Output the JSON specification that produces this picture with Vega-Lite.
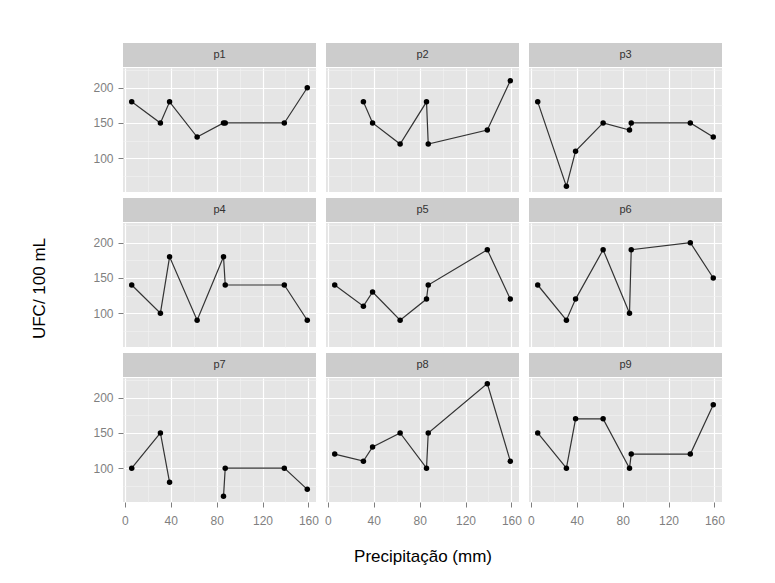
{
  "$schema": "https://vega.github.io/schema/vega-lite/v6.json",
  "background": "white",
  "padding": {"left": 30, "top": 43, "right": 5, "bottom": 5},
  "datasets": {"d": [
    {"p": "p1", "precip": 6, "ufc": 180}, {"p": "p1", "precip": 31, "ufc": 150}, {"p": "p1", "precip": 39, "ufc": 180}, {"p": "p1", "precip": 63, "ufc": 130}, {"p": "p1", "precip": 86, "ufc": 150}, {"p": "p1", "precip": 87.5, "ufc": 150}, {"p": "p1", "precip": 139, "ufc": 150}, {"p": "p1", "precip": 159, "ufc": 200},
    {"p": "p2", "precip": 6, "ufc": null}, {"p": "p2", "precip": 31, "ufc": 180}, {"p": "p2", "precip": 39, "ufc": 150}, {"p": "p2", "precip": 63, "ufc": 120}, {"p": "p2", "precip": 86, "ufc": 180}, {"p": "p2", "precip": 87.5, "ufc": 120}, {"p": "p2", "precip": 139, "ufc": 140}, {"p": "p2", "precip": 159, "ufc": 210},
    {"p": "p3", "precip": 6, "ufc": 180}, {"p": "p3", "precip": 31, "ufc": 60}, {"p": "p3", "precip": 39, "ufc": 110}, {"p": "p3", "precip": 63, "ufc": 150}, {"p": "p3", "precip": 86, "ufc": 140}, {"p": "p3", "precip": 87.5, "ufc": 150}, {"p": "p3", "precip": 139, "ufc": 150}, {"p": "p3", "precip": 159, "ufc": 130},
    {"p": "p4", "precip": 6, "ufc": 140}, {"p": "p4", "precip": 31, "ufc": 100}, {"p": "p4", "precip": 39, "ufc": 180}, {"p": "p4", "precip": 63, "ufc": 90}, {"p": "p4", "precip": 86, "ufc": 180}, {"p": "p4", "precip": 87.5, "ufc": 140}, {"p": "p4", "precip": 139, "ufc": 140}, {"p": "p4", "precip": 159, "ufc": 90},
    {"p": "p5", "precip": 6, "ufc": 140}, {"p": "p5", "precip": 31, "ufc": 110}, {"p": "p5", "precip": 39, "ufc": 130}, {"p": "p5", "precip": 63, "ufc": 90}, {"p": "p5", "precip": 86, "ufc": 120}, {"p": "p5", "precip": 87.5, "ufc": 140}, {"p": "p5", "precip": 139, "ufc": 190}, {"p": "p5", "precip": 159, "ufc": 120},
    {"p": "p6", "precip": 6, "ufc": 140}, {"p": "p6", "precip": 31, "ufc": 90}, {"p": "p6", "precip": 39, "ufc": 120}, {"p": "p6", "precip": 63, "ufc": 190}, {"p": "p6", "precip": 86, "ufc": 100}, {"p": "p6", "precip": 87.5, "ufc": 190}, {"p": "p6", "precip": 139, "ufc": 200}, {"p": "p6", "precip": 159, "ufc": 150},
    {"p": "p7", "precip": 6, "ufc": 100}, {"p": "p7", "precip": 31, "ufc": 150}, {"p": "p7", "precip": 39, "ufc": 80}, {"p": "p7", "precip": 63, "ufc": null}, {"p": "p7", "precip": 86, "ufc": 60}, {"p": "p7", "precip": 87.5, "ufc": 100}, {"p": "p7", "precip": 139, "ufc": 100}, {"p": "p7", "precip": 159, "ufc": 70},
    {"p": "p8", "precip": 6, "ufc": 120}, {"p": "p8", "precip": 31, "ufc": 110}, {"p": "p8", "precip": 39, "ufc": 130}, {"p": "p8", "precip": 63, "ufc": 150}, {"p": "p8", "precip": 86, "ufc": 100}, {"p": "p8", "precip": 87.5, "ufc": 150}, {"p": "p8", "precip": 139, "ufc": 220}, {"p": "p8", "precip": 159, "ufc": 110},
    {"p": "p9", "precip": 6, "ufc": 150}, {"p": "p9", "precip": 31, "ufc": 100}, {"p": "p9", "precip": 39, "ufc": 170}, {"p": "p9", "precip": 63, "ufc": 170}, {"p": "p9", "precip": 86, "ufc": 100}, {"p": "p9", "precip": 87.5, "ufc": 120}, {"p": "p9", "precip": 139, "ufc": 120}, {"p": "p9", "precip": 159, "ufc": 190}
  ]},
  "data": {"name": "d"},
  "columns": 3,
  "spacing": {"row": 6, "column": 5},
  "concat": [
    {"transform": [{"filter": "datum.p === 'p1'"}], "spacing": 1, "bounds": "flush", "vconcat": [
      {"width": 193, "height": 24, "view": {"fill": "#CCCCCC", "stroke": null}, "transform": [{"filter": "datum.precip === 6"}],
        "mark": {"type": "text", "fontSize": 11, "color": "#333333", "font": "Liberation Sans", "baseline": "middle", "align": "center"},
        "encoding": {"text": {"field": "p"}}},
      {"width": 193, "height": 124,
        "encoding": {
          "x": {"field": "precip", "type": "quantitative", "title": null, "scale": {"domain": [-1.6, 166.6], "nice": false, "zero": false},
            "axis": {"values": [0, 20, 40, 60, 80, 100, 120, 140, 160], "labels": false, "ticks": false,
              "gridColor": {"condition": {"test": "datum.value % 40 !== 0", "value": "#F2F2F2"}, "value": "#FFFFFF"},
              "gridWidth": {"condition": {"test": "datum.value % 40 !== 0", "value": 0.6}, "value": 1.2}}},
          "y": {"field": "ufc", "type": "quantitative", "title": null, "scale": {"domain": [52, 228], "nice": false, "zero": false},
            "axis": {"values": [75, 100, 125, 150, 175, 200, 225], "labelExpr": "datum.value % 50 === 0 ? datum.label : ''", "labelOverlap": false,
              "gridColor": {"condition": {"test": "datum.value % 50 !== 0", "value": "#F2F2F2"}, "value": "#FFFFFF"},
              "gridWidth": {"condition": {"test": "datum.value % 50 !== 0", "value": 0.6}, "value": 1.2},
              "tickOpacity": {"condition": {"test": "datum.value % 50 !== 0", "value": 0}, "value": 1}}}
        },
        "layer": [
          {"mark": {"type": "line", "color": "#333333", "strokeWidth": 1.2, "invalid": "break-paths-filter-domains"}},
          {"mark": {"type": "point", "filled": true, "color": "black", "size": 30, "opacity": 1}}
        ]}
    ]},
    {"transform": [{"filter": "datum.p === 'p2'"}], "spacing": 1, "bounds": "flush", "vconcat": [
      {"width": 193, "height": 24, "view": {"fill": "#CCCCCC", "stroke": null}, "transform": [{"filter": "datum.precip === 6"}],
        "mark": {"type": "text", "fontSize": 11, "color": "#333333", "font": "Liberation Sans", "baseline": "middle", "align": "center"},
        "encoding": {"text": {"field": "p"}}},
      {"width": 193, "height": 124,
        "encoding": {
          "x": {"field": "precip", "type": "quantitative", "title": null, "scale": {"domain": [-1.6, 166.6], "nice": false, "zero": false},
            "axis": {"values": [0, 20, 40, 60, 80, 100, 120, 140, 160], "labels": false, "ticks": false,
              "gridColor": {"condition": {"test": "datum.value % 40 !== 0", "value": "#F2F2F2"}, "value": "#FFFFFF"},
              "gridWidth": {"condition": {"test": "datum.value % 40 !== 0", "value": 0.6}, "value": 1.2}}},
          "y": {"field": "ufc", "type": "quantitative", "title": null, "scale": {"domain": [52, 228], "nice": false, "zero": false},
            "axis": {"values": [75, 100, 125, 150, 175, 200, 225], "labels": false, "ticks": false,
              "gridColor": {"condition": {"test": "datum.value % 50 !== 0", "value": "#F2F2F2"}, "value": "#FFFFFF"},
              "gridWidth": {"condition": {"test": "datum.value % 50 !== 0", "value": 0.6}, "value": 1.2}}}
        },
        "layer": [
          {"mark": {"type": "line", "color": "#333333", "strokeWidth": 1.2, "invalid": "break-paths-filter-domains"}},
          {"mark": {"type": "point", "filled": true, "color": "black", "size": 30, "opacity": 1}}
        ]}
    ]},
    {"transform": [{"filter": "datum.p === 'p3'"}], "spacing": 1, "bounds": "flush", "vconcat": [
      {"width": 193, "height": 24, "view": {"fill": "#CCCCCC", "stroke": null}, "transform": [{"filter": "datum.precip === 6"}],
        "mark": {"type": "text", "fontSize": 11, "color": "#333333", "font": "Liberation Sans", "baseline": "middle", "align": "center"},
        "encoding": {"text": {"field": "p"}}},
      {"width": 193, "height": 124,
        "encoding": {
          "x": {"field": "precip", "type": "quantitative", "title": null, "scale": {"domain": [-1.6, 166.6], "nice": false, "zero": false},
            "axis": {"values": [0, 20, 40, 60, 80, 100, 120, 140, 160], "labels": false, "ticks": false,
              "gridColor": {"condition": {"test": "datum.value % 40 !== 0", "value": "#F2F2F2"}, "value": "#FFFFFF"},
              "gridWidth": {"condition": {"test": "datum.value % 40 !== 0", "value": 0.6}, "value": 1.2}}},
          "y": {"field": "ufc", "type": "quantitative", "title": null, "scale": {"domain": [52, 228], "nice": false, "zero": false},
            "axis": {"values": [75, 100, 125, 150, 175, 200, 225], "labels": false, "ticks": false,
              "gridColor": {"condition": {"test": "datum.value % 50 !== 0", "value": "#F2F2F2"}, "value": "#FFFFFF"},
              "gridWidth": {"condition": {"test": "datum.value % 50 !== 0", "value": 0.6}, "value": 1.2}}}
        },
        "layer": [
          {"mark": {"type": "line", "color": "#333333", "strokeWidth": 1.2, "invalid": "break-paths-filter-domains"}},
          {"mark": {"type": "point", "filled": true, "color": "black", "size": 30, "opacity": 1}}
        ]}
    ]},
    {"transform": [{"filter": "datum.p === 'p4'"}], "spacing": 1, "bounds": "flush", "vconcat": [
      {"width": 193, "height": 24, "view": {"fill": "#CCCCCC", "stroke": null}, "transform": [{"filter": "datum.precip === 6"}],
        "mark": {"type": "text", "fontSize": 11, "color": "#333333", "font": "Liberation Sans", "baseline": "middle", "align": "center"},
        "encoding": {"text": {"field": "p"}}},
      {"width": 193, "height": 124,
        "encoding": {
          "x": {"field": "precip", "type": "quantitative", "title": null, "scale": {"domain": [-1.6, 166.6], "nice": false, "zero": false},
            "axis": {"values": [0, 20, 40, 60, 80, 100, 120, 140, 160], "labels": false, "ticks": false,
              "gridColor": {"condition": {"test": "datum.value % 40 !== 0", "value": "#F2F2F2"}, "value": "#FFFFFF"},
              "gridWidth": {"condition": {"test": "datum.value % 40 !== 0", "value": 0.6}, "value": 1.2}}},
          "y": {"field": "ufc", "type": "quantitative", "title": "UFC/ 100 mL", "scale": {"domain": [52, 228], "nice": false, "zero": false},
            "axis": {"values": [75, 100, 125, 150, 175, 200, 225], "labelExpr": "datum.value % 50 === 0 ? datum.label : ''", "labelOverlap": false, "titleY": 65,
              "gridColor": {"condition": {"test": "datum.value % 50 !== 0", "value": "#F2F2F2"}, "value": "#FFFFFF"},
              "gridWidth": {"condition": {"test": "datum.value % 50 !== 0", "value": 0.6}, "value": 1.2},
              "tickOpacity": {"condition": {"test": "datum.value % 50 !== 0", "value": 0}, "value": 1}}}
        },
        "layer": [
          {"mark": {"type": "line", "color": "#333333", "strokeWidth": 1.2, "invalid": "break-paths-filter-domains"}},
          {"mark": {"type": "point", "filled": true, "color": "black", "size": 30, "opacity": 1}}
        ]}
    ]},
    {"transform": [{"filter": "datum.p === 'p5'"}], "spacing": 1, "bounds": "flush", "vconcat": [
      {"width": 193, "height": 24, "view": {"fill": "#CCCCCC", "stroke": null}, "transform": [{"filter": "datum.precip === 6"}],
        "mark": {"type": "text", "fontSize": 11, "color": "#333333", "font": "Liberation Sans", "baseline": "middle", "align": "center"},
        "encoding": {"text": {"field": "p"}}},
      {"width": 193, "height": 124,
        "encoding": {
          "x": {"field": "precip", "type": "quantitative", "title": null, "scale": {"domain": [-1.6, 166.6], "nice": false, "zero": false},
            "axis": {"values": [0, 20, 40, 60, 80, 100, 120, 140, 160], "labels": false, "ticks": false,
              "gridColor": {"condition": {"test": "datum.value % 40 !== 0", "value": "#F2F2F2"}, "value": "#FFFFFF"},
              "gridWidth": {"condition": {"test": "datum.value % 40 !== 0", "value": 0.6}, "value": 1.2}}},
          "y": {"field": "ufc", "type": "quantitative", "title": null, "scale": {"domain": [52, 228], "nice": false, "zero": false},
            "axis": {"values": [75, 100, 125, 150, 175, 200, 225], "labels": false, "ticks": false,
              "gridColor": {"condition": {"test": "datum.value % 50 !== 0", "value": "#F2F2F2"}, "value": "#FFFFFF"},
              "gridWidth": {"condition": {"test": "datum.value % 50 !== 0", "value": 0.6}, "value": 1.2}}}
        },
        "layer": [
          {"mark": {"type": "line", "color": "#333333", "strokeWidth": 1.2, "invalid": "break-paths-filter-domains"}},
          {"mark": {"type": "point", "filled": true, "color": "black", "size": 30, "opacity": 1}}
        ]}
    ]},
    {"transform": [{"filter": "datum.p === 'p6'"}], "spacing": 1, "bounds": "flush", "vconcat": [
      {"width": 193, "height": 24, "view": {"fill": "#CCCCCC", "stroke": null}, "transform": [{"filter": "datum.precip === 6"}],
        "mark": {"type": "text", "fontSize": 11, "color": "#333333", "font": "Liberation Sans", "baseline": "middle", "align": "center"},
        "encoding": {"text": {"field": "p"}}},
      {"width": 193, "height": 124,
        "encoding": {
          "x": {"field": "precip", "type": "quantitative", "title": null, "scale": {"domain": [-1.6, 166.6], "nice": false, "zero": false},
            "axis": {"values": [0, 20, 40, 60, 80, 100, 120, 140, 160], "labels": false, "ticks": false,
              "gridColor": {"condition": {"test": "datum.value % 40 !== 0", "value": "#F2F2F2"}, "value": "#FFFFFF"},
              "gridWidth": {"condition": {"test": "datum.value % 40 !== 0", "value": 0.6}, "value": 1.2}}},
          "y": {"field": "ufc", "type": "quantitative", "title": null, "scale": {"domain": [52, 228], "nice": false, "zero": false},
            "axis": {"values": [75, 100, 125, 150, 175, 200, 225], "labels": false, "ticks": false,
              "gridColor": {"condition": {"test": "datum.value % 50 !== 0", "value": "#F2F2F2"}, "value": "#FFFFFF"},
              "gridWidth": {"condition": {"test": "datum.value % 50 !== 0", "value": 0.6}, "value": 1.2}}}
        },
        "layer": [
          {"mark": {"type": "line", "color": "#333333", "strokeWidth": 1.2, "invalid": "break-paths-filter-domains"}},
          {"mark": {"type": "point", "filled": true, "color": "black", "size": 30, "opacity": 1}}
        ]}
    ]},
    {"transform": [{"filter": "datum.p === 'p7'"}], "spacing": 1, "bounds": "flush", "vconcat": [
      {"width": 193, "height": 24, "view": {"fill": "#CCCCCC", "stroke": null}, "transform": [{"filter": "datum.precip === 6"}],
        "mark": {"type": "text", "fontSize": 11, "color": "#333333", "font": "Liberation Sans", "baseline": "middle", "align": "center"},
        "encoding": {"text": {"field": "p"}}},
      {"width": 193, "height": 124,
        "encoding": {
          "x": {"field": "precip", "type": "quantitative", "title": null, "scale": {"domain": [-1.6, 166.6], "nice": false, "zero": false},
            "axis": {"values": [0, 20, 40, 60, 80, 100, 120, 140, 160], "labelExpr": "datum.value % 40 === 0 ? datum.label : ''", "labelFlush": true, "labelOverlap": false,
              "gridColor": {"condition": {"test": "datum.value % 40 !== 0", "value": "#F2F2F2"}, "value": "#FFFFFF"},
              "gridWidth": {"condition": {"test": "datum.value % 40 !== 0", "value": 0.6}, "value": 1.2},
              "tickOpacity": {"condition": {"test": "datum.value % 40 !== 0", "value": 0}, "value": 1}}},
          "y": {"field": "ufc", "type": "quantitative", "title": null, "scale": {"domain": [52, 228], "nice": false, "zero": false},
            "axis": {"values": [75, 100, 125, 150, 175, 200, 225], "labelExpr": "datum.value % 50 === 0 ? datum.label : ''", "labelOverlap": false,
              "gridColor": {"condition": {"test": "datum.value % 50 !== 0", "value": "#F2F2F2"}, "value": "#FFFFFF"},
              "gridWidth": {"condition": {"test": "datum.value % 50 !== 0", "value": 0.6}, "value": 1.2},
              "tickOpacity": {"condition": {"test": "datum.value % 50 !== 0", "value": 0}, "value": 1}}}
        },
        "layer": [
          {"mark": {"type": "line", "color": "#333333", "strokeWidth": 1.2, "invalid": "break-paths-filter-domains"}},
          {"mark": {"type": "point", "filled": true, "color": "black", "size": 30, "opacity": 1}}
        ]}
    ]},
    {"transform": [{"filter": "datum.p === 'p8'"}], "spacing": 1, "bounds": "flush", "vconcat": [
      {"width": 193, "height": 24, "view": {"fill": "#CCCCCC", "stroke": null}, "transform": [{"filter": "datum.precip === 6"}],
        "mark": {"type": "text", "fontSize": 11, "color": "#333333", "font": "Liberation Sans", "baseline": "middle", "align": "center"},
        "encoding": {"text": {"field": "p"}}},
      {"width": 193, "height": 124,
        "encoding": {
          "x": {"field": "precip", "type": "quantitative", "title": "Precipitação (mm)", "scale": {"domain": [-1.6, 166.6], "nice": false, "zero": false},
            "axis": {"values": [0, 20, 40, 60, 80, 100, 120, 140, 160], "labelExpr": "datum.value % 40 === 0 ? datum.label : ''", "labelFlush": true, "labelOverlap": false,
              "gridColor": {"condition": {"test": "datum.value % 40 !== 0", "value": "#F2F2F2"}, "value": "#FFFFFF"},
              "gridWidth": {"condition": {"test": "datum.value % 40 !== 0", "value": 0.6}, "value": 1.2},
              "tickOpacity": {"condition": {"test": "datum.value % 40 !== 0", "value": 0}, "value": 1}}},
          "y": {"field": "ufc", "type": "quantitative", "title": null, "scale": {"domain": [52, 228], "nice": false, "zero": false},
            "axis": {"values": [75, 100, 125, 150, 175, 200, 225], "labels": false, "ticks": false,
              "gridColor": {"condition": {"test": "datum.value % 50 !== 0", "value": "#F2F2F2"}, "value": "#FFFFFF"},
              "gridWidth": {"condition": {"test": "datum.value % 50 !== 0", "value": 0.6}, "value": 1.2}}}
        },
        "layer": [
          {"mark": {"type": "line", "color": "#333333", "strokeWidth": 1.2, "invalid": "break-paths-filter-domains"}},
          {"mark": {"type": "point", "filled": true, "color": "black", "size": 30, "opacity": 1}}
        ]}
    ]},
    {"transform": [{"filter": "datum.p === 'p9'"}], "spacing": 1, "bounds": "flush", "vconcat": [
      {"width": 193, "height": 24, "view": {"fill": "#CCCCCC", "stroke": null}, "transform": [{"filter": "datum.precip === 6"}],
        "mark": {"type": "text", "fontSize": 11, "color": "#333333", "font": "Liberation Sans", "baseline": "middle", "align": "center"},
        "encoding": {"text": {"field": "p"}}},
      {"width": 193, "height": 124,
        "encoding": {
          "x": {"field": "precip", "type": "quantitative", "title": null, "scale": {"domain": [-1.6, 166.6], "nice": false, "zero": false},
            "axis": {"values": [0, 20, 40, 60, 80, 100, 120, 140, 160], "labelExpr": "datum.value % 40 === 0 ? datum.label : ''", "labelFlush": true, "labelOverlap": false,
              "gridColor": {"condition": {"test": "datum.value % 40 !== 0", "value": "#F2F2F2"}, "value": "#FFFFFF"},
              "gridWidth": {"condition": {"test": "datum.value % 40 !== 0", "value": 0.6}, "value": 1.2},
              "tickOpacity": {"condition": {"test": "datum.value % 40 !== 0", "value": 0}, "value": 1}}},
          "y": {"field": "ufc", "type": "quantitative", "title": null, "scale": {"domain": [52, 228], "nice": false, "zero": false},
            "axis": {"values": [75, 100, 125, 150, 175, 200, 225], "labels": false, "ticks": false,
              "gridColor": {"condition": {"test": "datum.value % 50 !== 0", "value": "#F2F2F2"}, "value": "#FFFFFF"},
              "gridWidth": {"condition": {"test": "datum.value % 50 !== 0", "value": 0.6}, "value": 1.2}}}
        },
        "layer": [
          {"mark": {"type": "line", "color": "#333333", "strokeWidth": 1.2, "invalid": "break-paths-filter-domains"}},
          {"mark": {"type": "point", "filled": true, "color": "black", "size": 30, "opacity": 1}}
        ]}
    ]}
  ],
  "config": {
    "view": {"fill": "#E5E5E5", "stroke": null},
    "axis": {
      "domain": false, "tickColor": "#7F7F7F", "tickSize": 5,
      "labelColor": "#7F7F7F", "labelFontSize": 12, "labelFont": "Liberation Sans",
      "titleFont": "Liberation Sans", "titleFontSize": 17, "titleFontWeight": "normal", "titleColor": "black"
    },
    "axisX": {"labelPadding": 8, "titlePadding": 22},
    "axisY": {"labelPadding": 5, "titlePadding": 44}
  }
}
